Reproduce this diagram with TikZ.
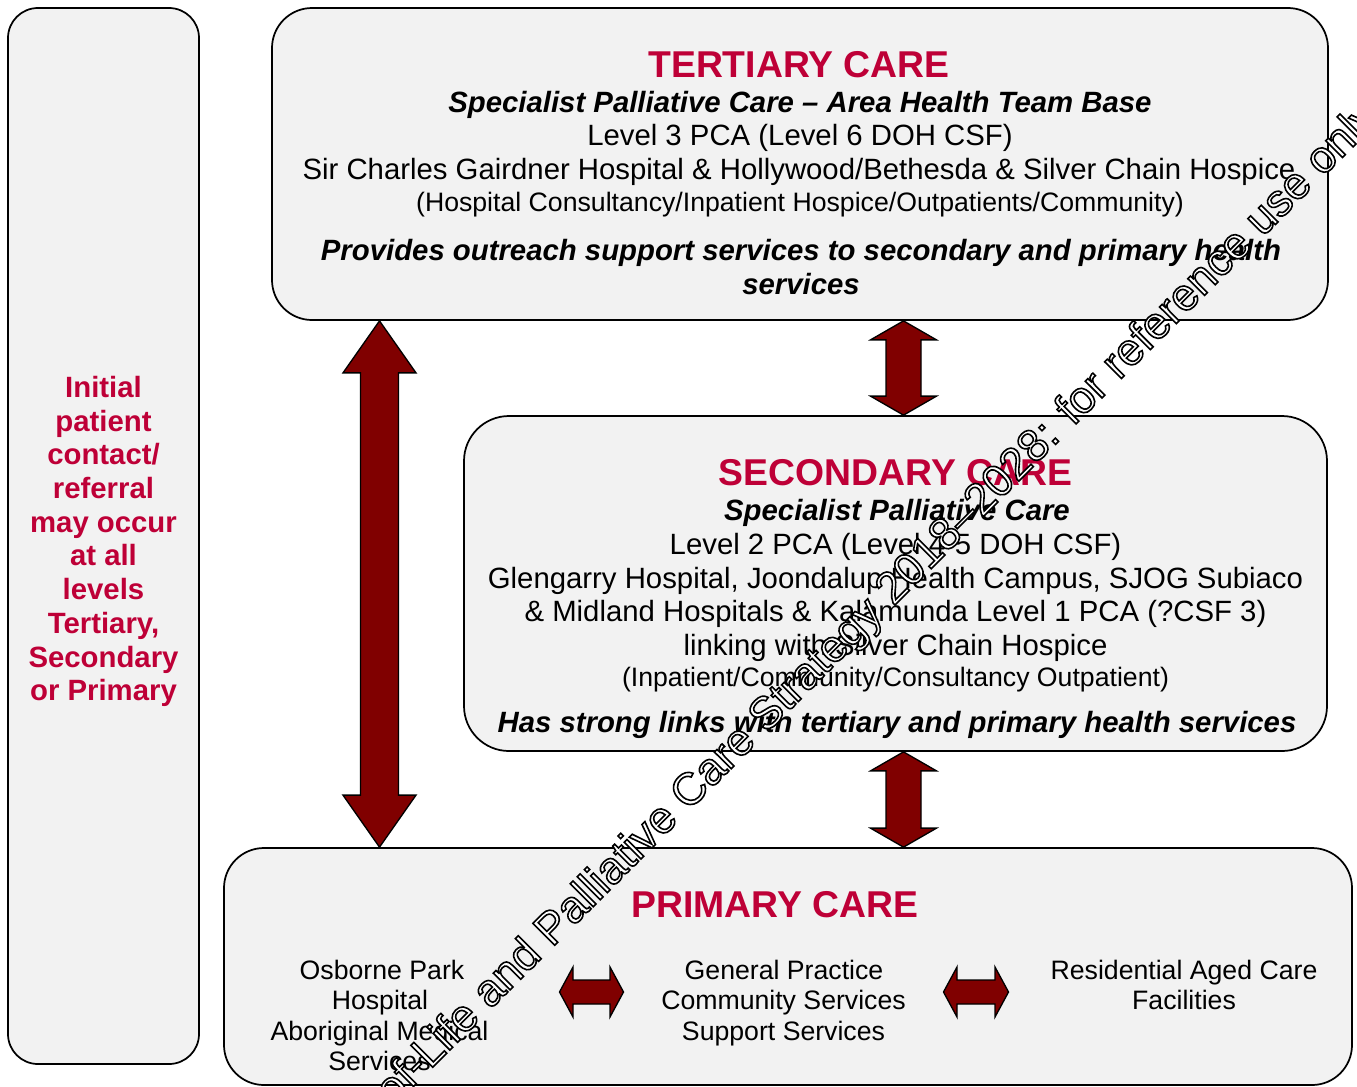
\documentclass[tikz,border=0pt]{standalone}
\usepackage{fontspec}
\setmainfont{Liberation Sans}
\usetikzlibrary{calc}
\definecolor{crim}{RGB}{190,0,55}
\definecolor{boxfill}{RGB}{242,242,242}
\definecolor{arrred}{RGB}{128,0,0}
\newcommand\fTitle{\fontsize{28}{32}\selectfont\bfseries}
\newcommand\fMain{\fontsize{22}{25}\selectfont}
\newcommand\fSmall{\fontsize{20}{22.7}\selectfont}
\newcommand\fBI{\fontsize{22}{25}\selectfont\bfseries\itshape}
% vertical double arrow: top, bottom, head length, head half width, shaft half width
\newcommand\vdarrow[5]{%
  \draw[blockarrow] (#1) -- ($(#1)+(#4,#3)$) -- ($(#1)+(#5,#3)$) -- ($(#2)+(#5,-#3)$)
   -- ($(#2)+(#4,-#3)$) -- (#2) -- ($(#2)+(-#4,-#3)$) -- ($(#2)+(-#5,-#3)$)
   -- ($(#1)+(-#5,#3)$) -- ($(#1)+(-#4,#3)$) -- cycle;}
% horizontal double arrow: left, right, head length, head half height, shaft half height
\newcommand\hdarrow[5]{%
  \draw[blockarrow] (#1) -- ($(#1)+(#3,-#4)$) -- ($(#1)+(#3,-#5)$) -- ($(#2)+(-#3,-#5)$)
   -- ($(#2)+(-#3,-#4)$) -- (#2) -- ($(#2)+(-#3,#4)$) -- ($(#2)+(-#3,#5)$)
   -- ($(#1)+(#3,#5)$) -- ($(#1)+(#3,#4)$) -- cycle;}
\begin{document}
\begin{tikzpicture}[x=0.75pt,y=-0.75pt,
  box/.style={draw=black, fill=boxfill, line width=1.3pt, inner sep=0pt},
  blockarrow/.style={draw=black, fill=arrred, line width=1pt, line join=miter},
  ln/.style={anchor=base, inner sep=0pt},
  title/.style={ln, font=\fTitle, text=crim},
  body/.style={ln, font=\fMain},
  small/.style={ln, font=\fSmall},
  bi/.style={ln, font=\fBI}]
\useasboundingbox (0,0) rectangle (1357,1086);
\fill[white] (0,0) rectangle (1357,1086);

% boxes
\node[box, rounded corners=22.5pt, minimum width=143.25pt, minimum height=792pt] (left) at (103.5,536) {};
\node[box, rounded corners=30pt, minimum width=792pt, minimum height=234pt] (tert) at (800,164) {};
\node[box, rounded corners=33.75pt, minimum width=647.25pt, minimum height=251.25pt] (sec) at (895.5,583.5) {};
\node[box, rounded corners=30pt, minimum width=846pt, minimum height=177.75pt] (prim) at (788,966.5) {};

% left text
\node[inner sep=0pt, align=center, text=crim, font=\fontsize{22}{25.3}\selectfont\bfseries] (lefttext) at (103.5,541.5)
 {Initial\\patient\\contact/\\referral\\may occur\\at all\\levels\\Tertiary,\\Secondary\\or Primary};

% tertiary
\node[title] (tt) at (799,77.4) {TERTIARY CARE};
\node[bi] (t1) at (800,112.5) {Specialist Palliative Care – Area Health Team Base};
\node[body] (t2) at (800,145.5) {Level 3 PCA (Level 6 DOH CSF)};
\node[body] (t3) at (799,179.5) {Sir Charles Gairdner Hospital \& Hollywood/Bethesda \& Silver Chain Hospice};
\node[small] (t4) at (800,211.5) {(Hospital Consultancy/Inpatient Hospice/Outpatients/Community)};
\node[bi] (t5) at (801,260.5) {Provides outreach support services to secondary and primary health};
\node[bi] (t6) at (801,294.5) {services};

% secondary
\node[title] (st) at (895.5,485.4) {SECONDARY CARE};
\node[bi] (s1) at (897,520.5) {Specialist Palliative Care};
\node[body] (s2) at (895.5,554.5) {Level 2 PCA (Level 4-5 DOH CSF)};
\node[body] (s3) at (895.5,588.5) {Glengarry Hospital, Joondalup Health Campus, SJOG Subiaco};
\node[body] (s4) at (895.5,621.5) {\& Midland Hospitals \& Kalamunda Level 1 PCA (?CSF 3)};
\node[body] (s5) at (895.5,655.5) {linking with Silver Chain Hospice};
\node[small] (s6) at (895.5,686.5) {(Inpatient/Community/Consultancy Outpatient)};
\node[bi] (s7) at (897,732.5) {Has strong links with tertiary and primary health services};

% primary
\node[title] (pt) at (775,917) {PRIMARY CARE};
\node[small] (pa1) at (382,979.5) {Osborne Park};
\node[small] (pa2) at (380,1009.8) {Hospital};
\node[small] (pa3) at (379.5,1040.1) {Aboriginal Medical};
\node[small] (pa4) at (379.5,1070.4) {Services};
\node[small] (pb1) at (784,979.5) {General Practice};
\node[small] (pb2) at (783.5,1009.8) {Community Services};
\node[small] (pb3) at (783.5,1040.1) {Support Services};
\node[small] (pc1) at (1184,979.5) {Residential Aged Care};
\node[small] (pc2) at (1184,1009.8) {Facilities};

% arrow end points
\coordinate (a1x) at (379.5,0);
\coordinate (a2x) at (903.5,0);
\coordinate (a1t) at (a1x |- tert.south);
\coordinate (a1b) at (a1x |- prim.north);
\coordinate (a2t) at (a2x |- tert.south);
\coordinate (a2b) at (a2x |- sec.north);
\coordinate (a3t) at (a2x |- sec.south);
\coordinate (a3b) at (a2x |- prim.north);
\coordinate (h1l) at (559.5,992);
\coordinate (h1r) at (623.5,992);
\coordinate (h2l) at (943.5,992);
\coordinate (h2r) at (1008.5,992);

\vdarrow{a1t}{a1b}{52}{36.5}{19}
\vdarrow{a2t}{a2b}{19}{33}{17.5}
\vdarrow{a3t}{a3b}{19}{33}{17.5}
\hdarrow{h1l}{h1r}{13.5}{25}{12}
\hdarrow{h2l}{h2r}{13.5}{25}{12}

% watermark
\begin{scope}
\clip (0,0) rectangle (1357,1086);
\node[rotate=45, anchor=base west, inner sep=0pt, text=white, font=\fontsize{33.75}{40}\selectfont] (wm) at (266.7,1233.3)
 {\special{pdf:code 0 G 2 Tr 1.2 w}WA End-of-Life and Palliative Care Strategy 2018–2028: for reference use only\special{pdf:code 0 Tr}};
\end{scope}
\end{tikzpicture}
\end{document}
